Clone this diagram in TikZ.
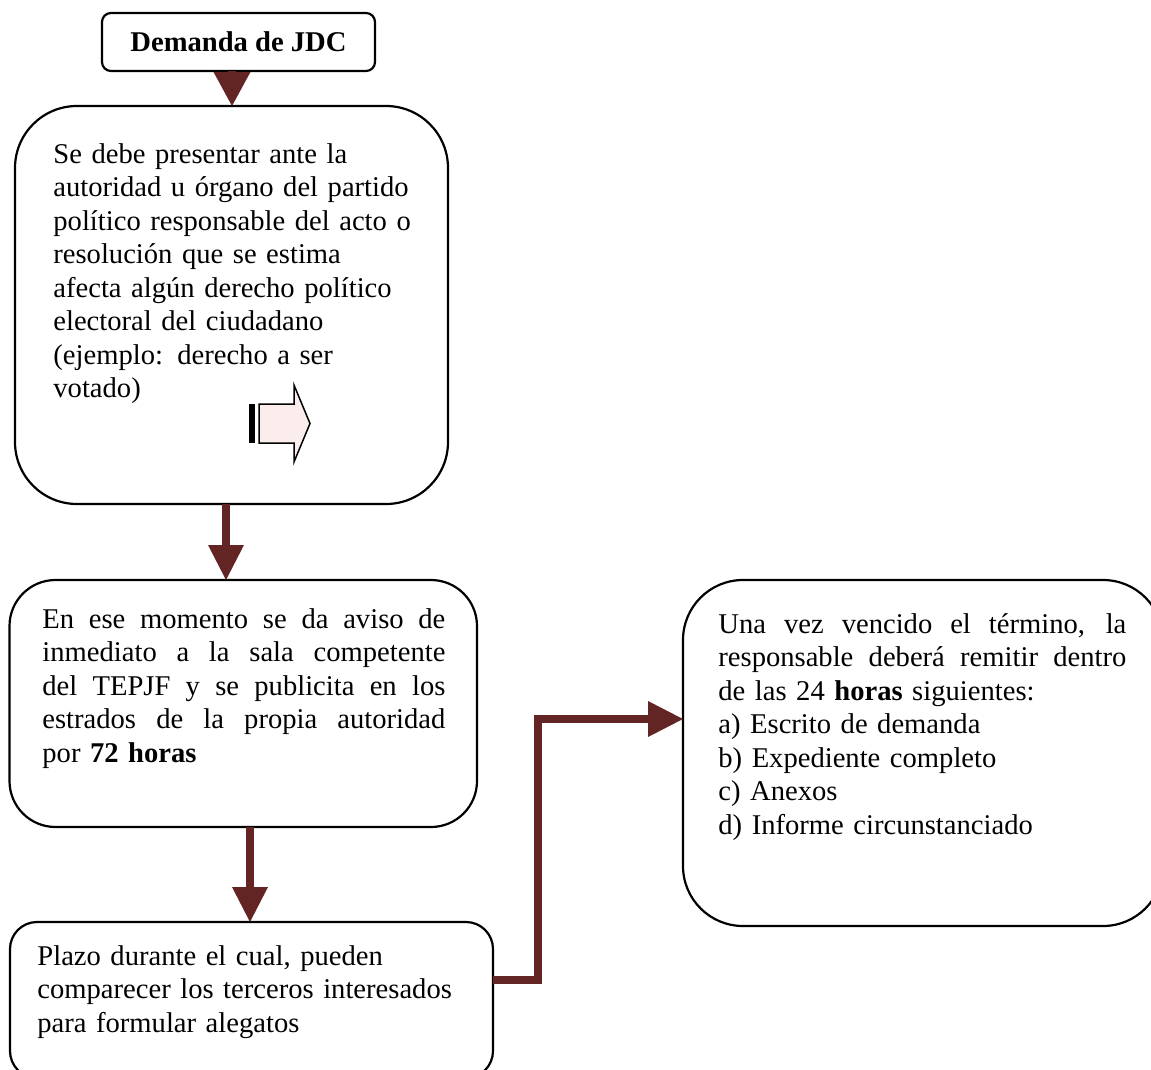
\documentclass[tikz,border=0pt]{standalone}
\usepackage{fontspec}
\setmainfont{Liberation Serif}
\usetikzlibrary{arrows.meta}
\definecolor{arrowred}{HTML}{632523}
\definecolor{blockpink}{HTML}{FAEDEC}
\newcommand{\jline}[2]{\makebox[#1][s]{\spaceskip=\fontdimen2\font plus 1fil\relax #2}}
\begin{document}
\begin{tikzpicture}[x=0.5pt,y=-0.5pt,
  box/.style={draw=black,line width=1.1pt,fill=white,inner sep=0pt,outer sep=0pt,anchor=north west},
  txt/.style={inner sep=0pt,anchor=base west,align=left,font=\fontsize{14.3pt}{16.75pt}\selectfont},
  conn/.style={draw=arrowred,line width=4pt,line join=miter,-{Triangle[width=18pt,length=17.5pt,line width=0pt]}},
  conntop/.style={draw=arrowred,line width=4pt,-{Triangle[width=18.5pt,length=17pt,line width=0pt]}}
]
\useasboundingbox (0,0) rectangle (1151,1070);
\clip (0,0) rectangle (1151,1070);

% boxes
\node[box,rounded corners=4.5pt,minimum width=136.5pt,minimum height=29pt,
      font=\fontsize{14.3pt}{16.75pt}\selectfont\bfseries] (b1) at (102,13) {Demanda de JDC};
\node[box,rounded corners=31pt,minimum width=216.5pt,minimum height=199pt] (b2) at (15,106) {};
\node[box,rounded corners=23pt,minimum width=233.75pt,minimum height=123.5pt] (b3) at (9.5,580) {};
\node[box,rounded corners=13.5pt,minimum width=241.5pt,minimum height=78pt] (b4) at (10,922) {};
\node[box,rounded corners=30pt,minimum width=240pt,minimum height=173pt] (b5) at (683,580) {};

% texts
\node[txt,text width=200pt] (t2) at (53,163) {Se debe presentar ante la\\autoridad u órgano del partido\\político responsable del acto o\\resolución que se estima\\afecta algún derecho político\\electoral del ciudadano\\(ejemplo: derecho a ser\\votado)};
\node[txt,text width=201.5pt] (t3) at (42,628) {\jline{201.5pt}{En ese momento se da aviso de}\\\jline{201.5pt}{inmediato a la sala competente}\\\jline{201.5pt}{del TEPJF y se publicita en los}\\\jline{201.5pt}{estrados de la propia autoridad}\\por \textbf{72 horas}};
\node[txt,text width=220pt] (t4) at (37,965) {Plazo durante el cual, pueden\\comparecer los terceros interesados\\para formular alegatos};
\node[txt,text width=204pt] (t5) at (718,633) {\jline{204pt}{Una vez vencido el término, la}\\\jline{204pt}{responsable deberá remitir dentro}\\de las 24 \textbf{horas} siguientes:\\a) Escrito de demanda\\b) Expediente completo\\c) Anexos\\d) Informe circunstanciado};

% block arrow inside box 2
\fill[black] (249,404) rectangle (255,443);
\draw[line width=0.75pt,fill=blockpink] (259,404) -- (294,404) -- (294,385) -- (310,423.5) -- (294,462) -- (294,443) -- (259,443) -- cycle;

% connectors
\coordinate (ax1) at (232,0);
\coordinate (ax2) at (226,0);
\coordinate (ax3) at (250,0);
\coordinate (e1) at (538,980);
\coordinate (e2) at (538,719);
\draw[conntop] (b1.south -| ax1) -- (b2.north -| ax1);
\draw[conn] (b2.south -| ax2) -- (b3.north -| ax2);
\draw[conn] (b3.south -| ax3) -- (b4.north -| ax3);
\draw[conn] (b4.east |- e1) -- (e1) -- (e2) -- (b5.west |- e2);
\end{tikzpicture}
\end{document}
